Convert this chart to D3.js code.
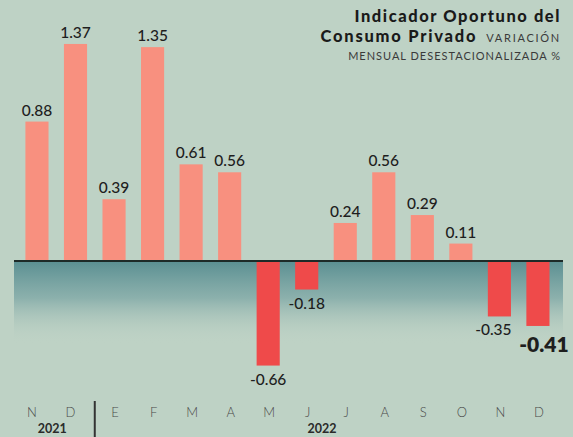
<!DOCTYPE html>
<html><head><meta charset="utf-8">
<script src="https://d3js.org/d3.v7.min.js"></script>
<style>
html,body{margin:0;padding:0;background:#bed2c5;}
svg{display:block;}
</style></head><body>
<svg id="c" width="573" height="437"></svg>
<script>
const months = ["N","D","E","F","M","A","M","J","J","A","S","O","N","D"];
const keys = months.map((m,i)=>i+"");
const values = [0.88,1.37,0.39,1.35,0.61,0.56,-0.66,-0.18,0.24,0.56,0.29,0.11,-0.35,-0.41];
const labels = ["0.88","1.37","0.39","1.35","0.61","0.56","-0.66","-0.18","0.24","0.56","0.29","0.11","-0.35","-0.41"];
const years = [{t:"2021",from:0,to:1},{t:"2022",from:2,to:13}];

const svg = d3.select("#c");
const W=573,H=437;
svg.append("rect").attr("width",W).attr("height",H).attr("fill","#bed2c5");

const x = d3.scaleBand().domain(keys).range([17.7,557.2]).paddingInner(0.4).paddingOuter(0.2);
const y = d3.scaleLinear().domain([-0.7,1.4]).range([371.9,39.2]);
const y0 = y(0);

const defs = svg.append("defs");
const g = defs.append("linearGradient").attr("id","neg").attr("x1",0).attr("y1",0).attr("x2",0).attr("y2",1);
g.append("stop").attr("offset","0%").attr("stop-color","#5a8f92").attr("stop-opacity",1);
g.append("stop").attr("offset","45%").attr("stop-color","#7fa8a6").attr("stop-opacity",0.8);
g.append("stop").attr("offset","100%").attr("stop-color","#bed2c5").attr("stop-opacity",0);
svg.append("rect").attr("x",14).attr("y",y0).attr("width",549).attr("height",y(-0.52)-y0).attr("fill","url(#neg)");

svg.selectAll("rect.bar").data(values).enter().append("rect").attr("class","bar")
  .attr("x",(d,i)=>x(keys[i])).attr("width",x.bandwidth())
  .attr("y",d=>d>=0?y(d):y0).attr("height",d=>Math.abs(y(d)-y0))
  .attr("fill",d=>d>=0?"#f8907f":"#ef4a4a");

svg.append("line").attr("x1",14).attr("x2",563).attr("y1",y0).attr("y2",y0).attr("stroke","#1d2a28").attr("stroke-width",2);

const last = values.length-1;
svg.selectAll("text.val").data(values).enter().append("text").attr("class","val")
  .attr("x",(d,i)=>x(keys[i])+x.bandwidth()/2 + (i===last?6:(i===last-1?-6:0)))
  .attr("y",(d,i)=>d>=0?y(d)-6:(i===last?y(d)+26:y(d)+19))
  .attr("text-anchor","middle")
  .attr("font-family","Lato, sans-serif")
  .attr("font-size",(d,i)=>i===last?21:15.5)
  .attr("font-weight",(d,i)=>i===last?800:500)
  .attr("fill","#1e1e1e")
  .text((d,i)=>labels[i]);

svg.selectAll("text.mon").data(months).enter().append("text").attr("class","mon")
  .attr("x",(d,i)=>x(keys[i])+x.bandwidth()/2 + (i<2?-5:1))
  .attr("y",417).attr("text-anchor","middle")
  .attr("font-family","Lato, sans-serif").attr("font-weight",300).attr("font-size",13)
  .attr("fill","#4a4a4a").text(d=>d);

svg.selectAll("text.yr").data(years).enter().append("text").attr("class","yr")
  .attr("x",d=>(x(keys[d.from])+x(keys[d.to])+x.bandwidth())/2 - 4)
  .attr("y",433).attr("text-anchor","middle")
  .attr("font-family","Lato, sans-serif").attr("font-weight",700).attr("font-size",12.5)
  .attr("fill","#2a2a2a").text(d=>d.t);

const divX = (x(keys[1])+x.bandwidth()+x(keys[2]))/2;
svg.append("line").attr("x1",divX).attr("x2",divX).attr("y1",401).attr("y2",437).attr("stroke","#333").attr("stroke-width",2);

// title
function fit(sel, target){
  const n = sel.text().length;
  const w = sel.node().getComputedTextLength();
  sel.attr("letter-spacing", ((target - w)/(n-1)).toFixed(2));
}
const T = svg.append("g").attr("font-family","Lato, sans-serif");
const t1 = T.append("text").attr("x",561).attr("y",21.5).attr("text-anchor","end").attr("font-weight",900).attr("font-size",16.5).attr("fill","#1a1a1a").text("Indicador Oportuno del");
fit(t1,205);
const l2 = T.append("text").attr("x",561).attr("y",41.5).attr("text-anchor","end");
const t2 = l2.append("tspan").attr("font-weight",900).attr("font-size",16.5).attr("fill","#1a1a1a").text("Consumo Privado");
const t3 = l2.append("tspan").attr("dx",9).attr("font-weight",400).attr("font-size",11).attr("fill","#3a3a3a").text("VARIACIÓN");
{
  const w2 = t2.node().getComputedTextLength();
  t2.attr("letter-spacing",((155-w2)/14).toFixed(2));
  const w3 = t3.node().getComputedTextLength();
  t3.attr("letter-spacing",((73-w3)/8).toFixed(2));
}
const t4 = T.append("text").attr("x",561).attr("y",60).attr("text-anchor","end").attr("font-weight",400).attr("font-size",11).attr("fill","#3a3a3a").text("MENSUAL DESESTACIONALIZADA %");
fit(t4,212);
</script>
</body></html>
